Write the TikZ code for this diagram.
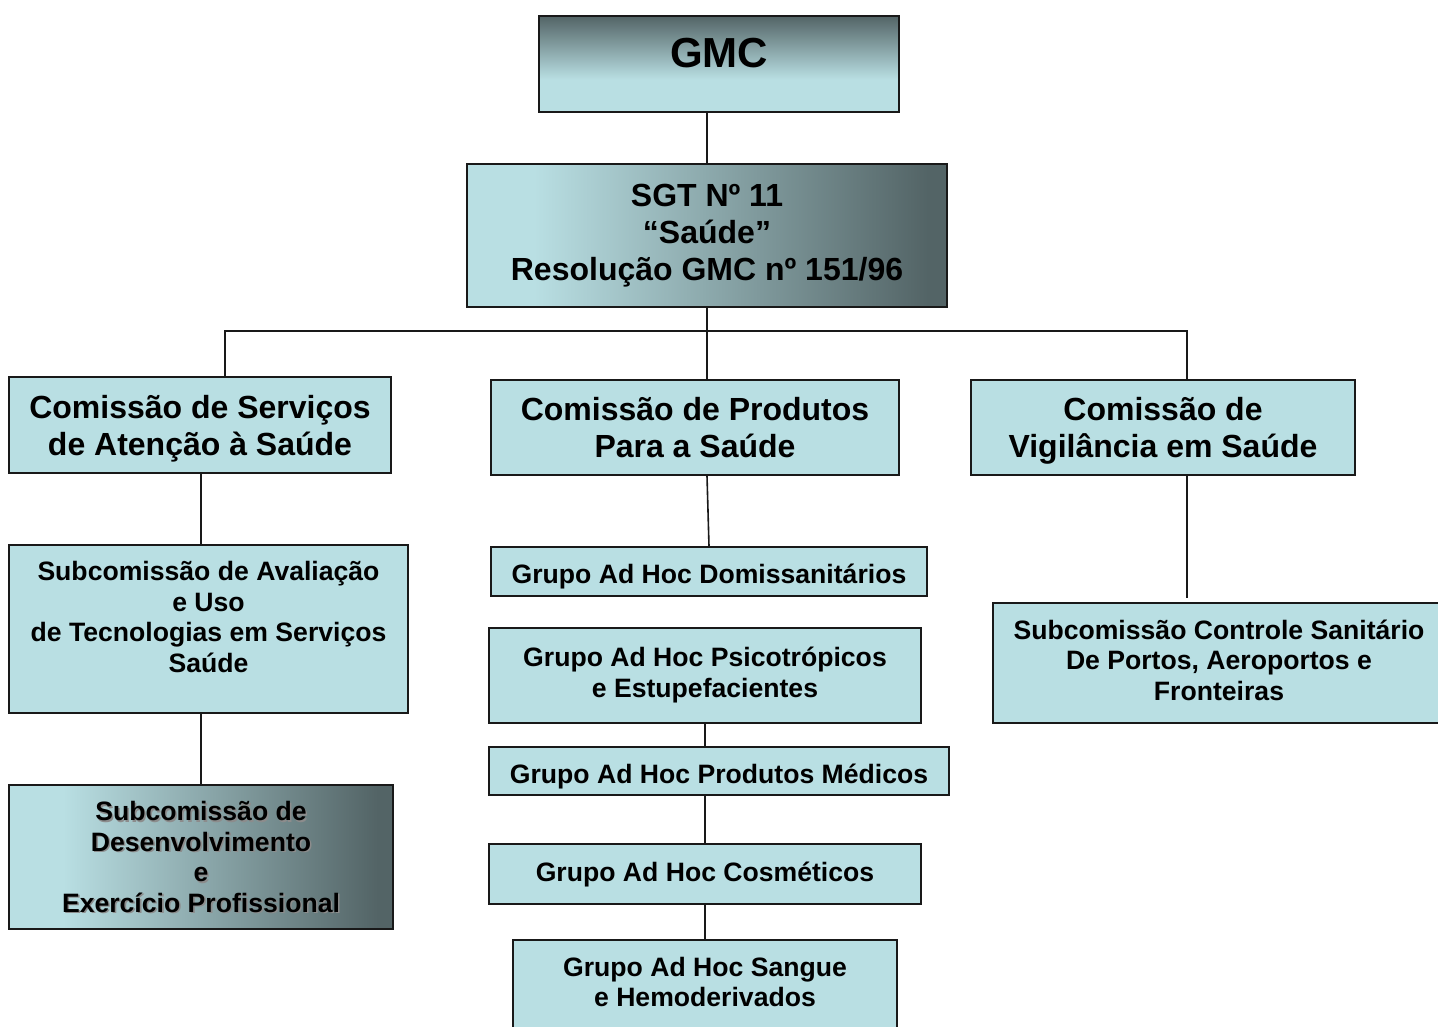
\documentclass[tikz,border=0pt]{standalone}
\usepackage{fontspec}
\setmainfont{Liberation Sans}
\usetikzlibrary{calc}
\definecolor{lt}{RGB}{185,223,227}
\definecolor{dk}{RGB}{83,100,102}
\definecolor{edge}{RGB}{25,25,25}
\pgfdeclarehorizontalshading{hsh}{100bp}{color(0bp)=(lt); color(32bp)=(lt); color(73bp)=(dk); color(100bp)=(dk)}
\pgfdeclareverticalshading{vsh}{100bp}{color(0bp)=(lt); color(42bp)=(lt); color(75bp)=(dk); color(100bp)=(dk)}
\newcommand{\lowpad}[1]{\rule[-#1pt]{0pt}{0pt}}
\newcommand{\toppad}[1]{\rule{0pt}{#1pt}}
\tikzset{
  box/.style={draw=edge, line width=1.6pt, fill=lt, inner sep=0pt, align=center},
  big/.style={font=\fontsize{32}{37}\selectfont\bfseries},
  small/.style={font=\fontsize{26.6}{30.5}\selectfont\bfseries},
  conn/.style={draw=edge, line width=1.6pt}
}
\begin{document}
\begin{tikzpicture}[x=1pt,y=-1pt]
\useasboundingbox (0,0) rectangle (1438,1027);
% top
\node[box, shading=vsh, minimum width=360, text height=52, text depth=44, font=\fontsize{42}{48}\selectfont\bfseries] (gmc) at (719,64) {GMC};
\node[box, big, shading=hsh, minimum width=480, minimum height=143] (sgt) at (707,235.5) {SGT Nº 11\\“Saúde”\\Resolução GMC nº 151/96};
% commissions
\node[box, big, minimum width=382, minimum height=96] (cs) at (200,425) {\toppad{31}Comissão de Serviços\\de Atenção à Saúde};
\node[box, big, minimum width=408, minimum height=95] (cp) at (695,427.5) {Comissão de Produtos\\Para a Saúde};
\node[box, big, minimum width=384, minimum height=95] (cv) at (1163,427.5) {\toppad{29}Comissão de\\Vigilância em Saúde};
% left column
\node[box, small, minimum width=399, minimum height=168] (av) at (208.5,629) {Subcomissão de Avaliação\\e Uso\\de Tecnologias em Serviços\\Saúde\lowpad{24}};
\node[box, small, shading=hsh, minimum width=384, minimum height=144,
  path picture={\node[small, align=center, inner sep=0pt, text=black!45] (desshadow) at ([shift={(1.6pt,-1.6pt)}]path picture bounding box.center) {Subcomissão de\\Desenvolvimento\\e\\Exercício Profissional};}] (des) at (201,857) {Subcomissão de\\Desenvolvimento\\e\\Exercício Profissional};
% middle column
\node[box, small, minimum width=436, text height=36.6, text depth=12.4] (dom) at (709,571.5) {Grupo Ad Hoc Domissanitários};
\node[box, small, minimum width=432, minimum height=95] (psi) at (705,675.5) {Grupo Ad Hoc Psicotrópicos\\e Estupefacientes\lowpad{7}};
\node[box, small, minimum width=460, text height=36.6, text depth=11.4] (med) at (719,771) {Grupo Ad Hoc Produtos Médicos};
\node[box, small, minimum width=432, minimum height=60] (cos) at (705,874) {Grupo Ad Hoc Cosméticos};
\node[box, small, minimum width=384, minimum height=108] (sg) at (705,994) {Grupo Ad Hoc Sangue\\e Hemoderivados\lowpad{24}};
% right column
\node[box, small, minimum width=452, minimum height=120] (ctl) at (1219,663) {Subcomissão Controle Sanitário\\De Portos, Aeroportos e\\Fronteiras\lowpad{6}};
% connectors
\coordinate (busL) at (225,331);
\coordinate (busR) at (1187,331);
\draw[conn] (sgt.north) -- (sgt.north |- gmc.south);
\draw[conn] (sgt.south) -- (sgt.south |- cp.north);
\draw[conn] (busL |- cs.north) -- (busL) -- (busR) -- (busR |- cv.north);
\draw[conn] (des.north |- cs.south) -- (des.north |- av.north);
\draw[conn] (des.north) -- (des.north |- av.south);
\draw[conn] (sgt.south |- cp.south) -- (dom.north);
\draw[conn] (psi.south) -- (psi.south |- med.north);
\draw[conn] (cos.north) -- (cos.north |- med.south);
\draw[conn] (cos.south) -- (sg.north);
\draw[conn] (busR |- cv.south) -- ($(busR |- ctl.north)+(0,-4)$);
\end{tikzpicture}
\end{document}
